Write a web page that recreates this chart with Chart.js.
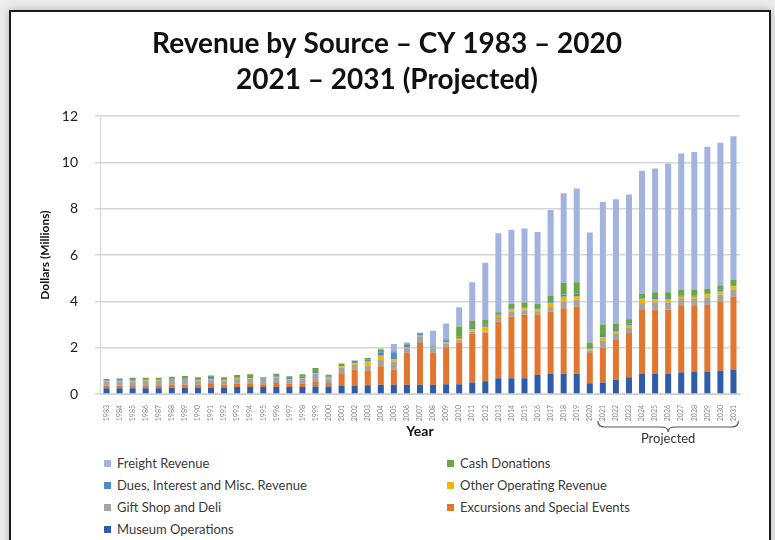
<!DOCTYPE html>
<html>
<head>
<meta charset="utf-8">
<title>Revenue by Source</title>
<script src="https://cdn.jsdelivr.net/npm/chart.js@4.4.1/dist/chart.umd.min.js"></script>
<style>
    body {
        margin: 0;
        width: 775px;
        height: 540px;
        overflow: hidden;
        background: #ececec;
        font-family: Lato, "Open Sans", sans-serif;
    }
    #frame {
        position: absolute;
        left: 9px;
        top: 10px;
        width: 758px;
        height: 560px;
        background: #fff;
        border: 2px solid #1c1c1c;
        box-shadow: 0 0 8px rgba(0,0,0,0.25);
    }
    #chartBox {
        position: absolute;
        left: 0;
        top: 0;
        width: 775px;
        height: 450px;
    }
    #legend {
        position: absolute;
        left: 104px;
        top: 452px;
        display: grid;
        grid-template-columns: 343px 300px;
        grid-auto-rows: 22px;
        font-size: 13px;
        color: #3a3a3a;
    }
    #legend div {
        display: flex;
        align-items: center;
    }
    #legend span.box {
        display: inline-block;
        width: 7px;
        height: 7px;
        margin-right: 6px;
    }
</style>
</head>
<body>
<div id="frame"></div>
<div id="chartBox"><canvas id="revenueChart"></canvas></div>
<div id="legend"></div>

<script>
// ==============================
// Revenue by Source - data
// ==============================

const years = [];
for (let y = 1983; y <= 2031; y++) years.push(String(y));

const museumOps = [
    0.25, 0.25, 0.25, 0.25, 0.25, 0.27, 0.27, 0.27, 0.28, 0.28,
    0.30, 0.30, 0.30, 0.30, 0.30, 0.30, 0.32, 0.32, 0.35, 0.35,
    0.38, 0.40, 0.40, 0.40, 0.40, 0.40, 0.42, 0.42, 0.50, 0.55,
    0.68, 0.68, 0.68, 0.83, 0.87, 0.87, 0.87, 0.46, 0.50, 0.62,
    0.72, 0.86, 0.86, 0.86, 0.93, 0.97, 0.97, 1.00, 1.05
];
const excursions = [
    0.12, 0.12, 0.13, 0.13, 0.13, 0.14, 0.14, 0.13, 0.15, 0.13,
    0.15, 0.16, 0.12, 0.17, 0.14, 0.15, 0.20, 0.15, 0.55, 0.70,
    0.65, 0.80, 0.65, 1.38, 1.80, 1.38, 1.60, 1.80, 2.10, 2.10,
    2.45, 2.67, 2.74, 2.59, 2.69, 2.83, 2.91, 1.31, 1.50, 1.75,
    1.91, 2.77, 2.79, 2.79, 2.87, 2.83, 2.88, 3.00, 3.15
];
const giftShop = [
    0.15, 0.16, 0.17, 0.18, 0.18, 0.19, 0.19, 0.18, 0.20, 0.17,
    0.20, 0.20, 0.18, 0.22, 0.18, 0.22, 0.35, 0.20, 0.25, 0.20,
    0.20, 0.30, 0.35, 0.20, 0.30, 0.20, 0.15, 0.10, 0.10, 0.05,
    0.20, 0.20, 0.20, 0.15, 0.20, 0.30, 0.30, 0.10, 0.30, 0.25,
    0.25, 0.30, 0.30, 0.30, 0.30, 0.30, 0.30, 0.30, 0.30
];
const otherOperating = [
    0.02, 0.02, 0.02, 0.02, 0.02, 0.02, 0.02, 0.02, 0.02, 0.02,
    0.02, 0.02, 0.02, 0.02, 0.02, 0.02, 0.03, 0.03, 0.05, 0.08,
    0.20, 0.15, 0.10, 0.05, 0.05, 0.05, 0.05, 0.10, 0.10, 0.20,
    0.05, 0.10, 0.08, 0.08, 0.15, 0.20, 0.15, 0.05, 0.15, 0.10,
    0.10, 0.15, 0.15, 0.15, 0.10, 0.10, 0.15, 0.15, 0.15
];
const duesInterest = [
    0.04, 0.04, 0.04, 0.04, 0.04, 0.04, 0.04, 0.04, 0.04, 0.04,
    0.05, 0.05, 0.05, 0.05, 0.05, 0.05, 0.05, 0.05, 0.05, 0.05,
    0.05, 0.15, 0.30, 0.10, 0.05, 0.02, 0.10, 0.05, 0.05, 0.10,
    0.05, 0.05, 0.05, 0.05, 0.05, 0.10, 0.10, 0.05, 0.10, 0.05,
    0.05, 0.05, 0.05, 0.05, 0.05, 0.05, 0.05, 0.05, 0.05
];
const cashDonations = [
    0.07, 0.08, 0.09, 0.08, 0.08, 0.09, 0.12, 0.08, 0.11, 0.08,
    0.10, 0.12, 0.05, 0.11, 0.08, 0.11, 0.17, 0.08, 0.07, 0.07,
    0.07, 0.10, 0.05, 0.05, 0.05, 0.05, 0.05, 0.45, 0.30, 0.20,
    0.10, 0.20, 0.20, 0.20, 0.30, 0.50, 0.50, 0.25, 0.45, 0.25,
    0.20, 0.20, 0.25, 0.25, 0.25, 0.25, 0.20, 0.20, 0.25
];
const freight = [
    0, 0, 0, 0, 0, 0, 0, 0, 0, 0,
    0, 0, 0, 0, 0, 0, 0, 0, 0, 0,
    0, 0.07, 0.31, 0.04, 0, 0.63, 0.68, 0.83, 1.68, 2.47,
    3.42, 3.20, 3.20, 3.10, 3.69, 3.87, 4.05, 4.76, 5.30, 5.39,
    5.39, 5.31, 5.34, 5.56, 5.89, 5.96, 6.13, 6.15, 6.19
];

const yTicks = [0, 2, 4, 6, 8, 10, 12];
const projectedFrom = "2021";
const projectedTo = "2031";

// stacking order, bottom first
const series = [
    { label: "Museum Operations", data: museumOps, color: "#2f5ca8" },
    { label: "Excursions and Special Events", data: excursions, color: "#e2762e" },
    { label: "Gift Shop and Deli", data: giftShop, color: "#a3a3a3" },
    { label: "Other Operating Revenue", data: otherOperating, color: "#f2b600" },
    { label: "Dues, Interest and Misc. Revenue", data: duesInterest, color: "#4b8dc8" },
    { label: "Cash Donations", data: cashDonations, color: "#6aa646" },
    { label: "Freight Revenue", data: freight, color: "#a2b3e0" }
];

// legend reads row by row in two columns
const legendOrder = [
    "Freight Revenue", "Cash Donations",
    "Dues, Interest and Misc. Revenue", "Other Operating Revenue",
    "Gift Shop and Deli", "Excursions and Special Events",
    "Museum Operations"
];

// =====================
// Brace under projected years
// =====================

const projectedBrace = {
    id: "projectedBrace",
    afterDraw(chart) {
        const xs = chart.scales.x;
        const ctx = chart.ctx;
        const x0 = xs.getPixelForValue(years.indexOf(projectedFrom)) - 5;
        const x1 = xs.getPixelForValue(years.indexOf(projectedTo)) + 5;
        const mid = (x0 + x1) / 2;
        const y0 = 421;
        const r = 7;

        ctx.save();
        ctx.strokeStyle = "#555";
        ctx.lineWidth = 1.2;
        ctx.beginPath();
        ctx.moveTo(x0, y0);
        ctx.quadraticCurveTo(x0, y0 + 6, x0 + r, y0 + 6);
        ctx.lineTo(mid - r, y0 + 6);
        ctx.quadraticCurveTo(mid, y0 + 6, mid, y0 + 11);
        ctx.quadraticCurveTo(mid, y0 + 6, mid + r, y0 + 6);
        ctx.lineTo(x1 - r, y0 + 6);
        ctx.quadraticCurveTo(x1, y0 + 6, x1, y0);
        ctx.stroke();

        ctx.fillStyle = "#333";
        ctx.font = "13px Lato";
        ctx.textAlign = "center";
        ctx.textBaseline = "middle";
        ctx.fillText("Projected", mid, y0 + 18);
        ctx.restore();
    }
};

Chart.defaults.font.family = "Lato";

const revenueChart = new Chart(document.getElementById("revenueChart"), {
    type: "bar",
    data: {
        labels: years,
        datasets: series.map(s => ({
            label: s.label,
            data: s.data,
            backgroundColor: s.color,
            barPercentage: 0.46,
            categoryPercentage: 1.0
        }))
    },
    options: {
        responsive: true,
        maintainAspectRatio: false,
        animation: false,
        layout: {
            padding: { left: 34, right: 35, top: 0, bottom: 6 }
        },
        plugins: {
            legend: { display: false },
            tooltip: { enabled: false },
            title: {
                display: true,
                text: ["Revenue by Source \u2013 CY 1983 \u2013 2020", "2021 \u2013 2031 (Projected)"],
                color: "#111",
                font: { size: 28, weight: "bold", lineHeight: 1.29 },
                padding: { top: 26, bottom: 18 }
            }
        },
        scales: {
            x: {
                stacked: true,
                grid: { display: false },
                border: { display: true, color: "#d0d0d0" },
                ticks: {
                    autoSkip: false,
                    minRotation: 90,
                    maxRotation: 90,
                    padding: 3,
                    color: "#888",
                    font: { size: 7 }
                },
                title: {
                    display: true,
                    text: "Year",
                    color: "#111",
                    font: { size: 14, weight: "bold" },
                    padding: { top: 4, bottom: 4 }
                },
                afterFit(scale) { scale.height = 50; }
            },
            y: {
                stacked: true,
                min: 0,
                max: 12,
                afterBuildTicks(scale) {
                    scale.ticks = yTicks.map(v => ({ value: v }));
                },
                grid: {
                    color: "#d6d6d6",
                    lineWidth: 1.5,
                    tickLength: 5
                },
                border: { display: true, color: "#d6d6d6" },
                ticks: {
                    color: "#222",
                    padding: 17,
                    font: { size: 14 }
                },
                title: {
                    display: true,
                    text: "Dollars (Millions)",
                    color: "#111",
                    font: { size: 12, weight: "bold" },
                    padding: { top: 4, bottom: 4 }
                },
                afterFit(scale) { scale.width = 66; }
            }
        }
    },
    plugins: [projectedBrace]
});

// =====================
// Legend (two columns)
// =====================

const legendBox = document.getElementById("legend");
legendOrder.forEach(name => {
    const s = series.find(item => item.label === name);
    const div = document.createElement("div");
    div.innerHTML = `<span class="box" style="background:${s.color}"></span>${s.label}`;
    legendBox.appendChild(div);
});
</script>
</body>
</html>
